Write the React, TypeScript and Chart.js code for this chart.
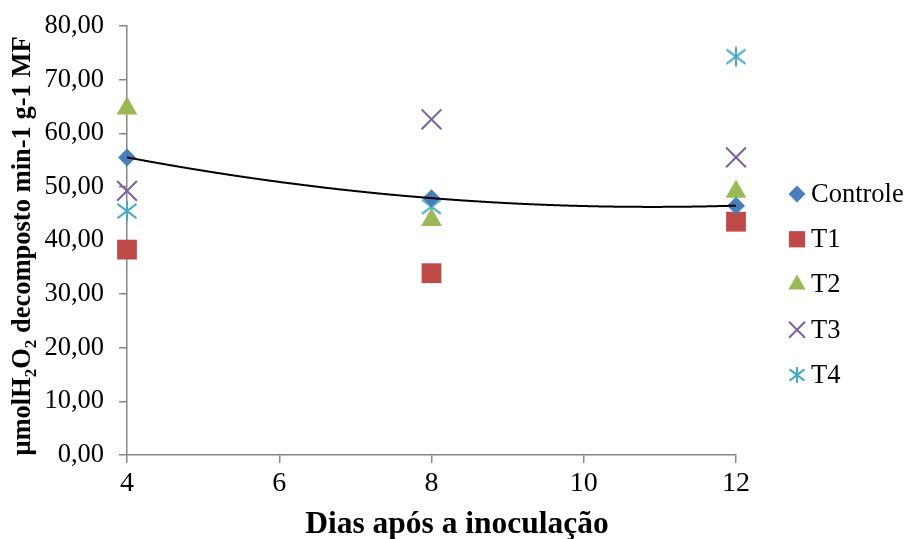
import React, { useEffect, useRef } from 'react';
import { Chart, registerables } from 'chart.js';
import { drawPoint } from 'chart.js/helpers';

Chart.register(...registerables);

// ---- data ----
const days = [4, 8, 12];
const controle = [55.5, 47.9, 46.5];
const t1 = [38.3, 33.9, 43.5];
const t2 = [64.6, 43.8, 49.1];
const t3 = [49.25, 62.6, 55.5];
const t4 = [45.5, 46.3, 74.3];
const seriesNames = ['Controle', 'T1', 'T2', 'T3', 'T4'];
const xTicks = [4, 6, 8, 10, 12];
const yTicks = [0, 10, 20, 30, 40, 50, 60, 70, 80];
const xTitle = 'Dias após a inoculação';
const yTitleParts = [
  { t: 'μmolH', sub: false },
  { t: '2', sub: true },
  { t: 'O', sub: false },
  { t: '2', sub: true },
  { t: ' decomposto min-1 g-1 MF', sub: false },
];

const colors = ['#4A7EBB', '#BE4B48', '#98B954', '#7D60A0', '#46AAC5'];
const FONT = "'Liberation Serif', 'Times New Roman', serif";
const AXIS = '#868686';

function makeStar(size: number, color: string) {
  const c = document.createElement('canvas');
  c.width = size;
  c.height = size;
  const g = c.getContext('2d')!;
  g.strokeStyle = color;
  g.lineWidth = 2;
  const m = size / 2;
  const hx = size / 2 - 1.5;
  const hy = hx * 0.75;
  g.beginPath();
  g.moveTo(m, 1);
  g.lineTo(m, size - 1);
  g.moveTo(m - hx, m - hy);
  g.lineTo(m + hx, m + hy);
  g.moveTo(m + hx, m - hy);
  g.lineTo(m - hx, m + hy);
  g.stroke();
  return c;
}

function quadFit(xs: number[], ys: number[]) {
  let s0 = 0, s1 = 0, s2 = 0, s3 = 0, s4 = 0, t0 = 0, t1_ = 0, t2_ = 0;
  for (let i = 0; i < xs.length; i++) {
    const x = xs[i], y = ys[i];
    s0 += 1; s1 += x; s2 += x * x; s3 += x * x * x; s4 += x * x * x * x;
    t0 += y; t1_ += x * y; t2_ += x * x * y;
  }
  const M = [
    [s0, s1, s2, t0],
    [s1, s2, s3, t1_],
    [s2, s3, s4, t2_],
  ];
  for (let i = 0; i < 3; i++) {
    let p = i;
    for (let r = i + 1; r < 3; r++) if (Math.abs(M[r][i]) > Math.abs(M[p][i])) p = r;
    [M[i], M[p]] = [M[p], M[i]];
    for (let r = 0; r < 3; r++) {
      if (r === i) continue;
      const f = M[r][i] / M[i][i];
      for (let k = i; k < 4; k++) M[r][k] -= f * M[i][k];
    }
  }
  const a = M[0][3] / M[0][0], b = M[1][3] / M[1][1], c = M[2][3] / M[2][2];
  return (x: number) => a + b * x + c * x * x;
}

export default function App() {
  const ref = useRef<HTMLCanvasElement>(null);

  useEffect(() => {
    const canvas = ref.current!;
    const starBig = makeStar(22, colors[4]);
    const starSmall = makeStar(18, colors[4]);
    const styles: any[] = ['rectRot', 'rect', 'triangle', 'crossRot', starBig];
    const radii = [9, 14, 12, 14, 11];
    const legendStyles: any[] = ['rectRot', 'rect', 'triangle', 'crossRot', starSmall];
    const legendRadii = [8.5, 11.5, 10, 11.3, 9];
    const all = [controle, t1, t2, t3, t4];
    const trend = quadFit(days, controle);

    const datasets = all.map((vals, i) => ({
      label: seriesNames[i],
      data: days.map((d, j) => ({ x: d, y: vals[j] })),
      pointStyle: styles[i],
      pointRadius: radii[i],
      pointHoverRadius: radii[i],
      backgroundColor: colors[i],
      borderColor: colors[i],
      pointBorderWidth: i >= 3 ? 2 : 0,
      showLine: false,
      clip: false,
    }));

    const extras = {
      id: 'extras',
      afterDatasetsDraw(chart: any) {
        const { ctx, scales } = chart;
        const xs = scales.x, ys = scales.y;
        ctx.save();
        ctx.beginPath();
        const p0 = xs.getPixelForValue(days[0]);
        const p1 = xs.getPixelForValue(days[days.length - 1]);
        for (let px = p0; px <= p1 + 0.01; px += 1) {
          const xv = xs.getValueForPixel(px);
          const py = ys.getPixelForValue(trend(xv));
          if (px === p0) ctx.moveTo(px, py); else ctx.lineTo(px, py);
        }
        ctx.strokeStyle = '#000';
        ctx.lineWidth = 2;
        ctx.stroke();
        ctx.restore();
      },
      afterDraw(chart: any) {
        const { ctx } = chart;
        ctx.save();
        // legend
        ctx.textAlign = 'left';
        ctx.textBaseline = 'middle';
        ctx.font = `26.5px ${FONT}`;
        seriesNames.forEach((name, i) => {
          const cy = 194 + i * 45.25;
          const mx = 797;
          ctx.fillStyle = colors[i];
          ctx.strokeStyle = colors[i];
          ctx.lineWidth = i >= 3 ? 2 : 0;
          drawPoint(ctx, { pointStyle: legendStyles[i], radius: legendRadii[i], rotation: 0, borderWidth: i >= 3 ? 2 : 0 } as any, mx, cy);
          ctx.fillStyle = '#000';
          ctx.fillText(name, mx + 14, cy + 1);
        });
        // x title
        ctx.font = `bold 31.5px ${FONT}`;
        ctx.textAlign = 'center';
        ctx.textBaseline = 'alphabetic';
        ctx.fillStyle = '#000';
        ctx.fillText(xTitle, 457, 533);
        // y title
        const cy = 246;
        ctx.translate(30, cy);
        ctx.rotate(-Math.PI / 2);
        const bigF = `bold 26.5px ${FONT}`;
        const subF = `bold 17px ${FONT}`;
        let total = 0;
        const widths = yTitleParts.map((p) => {
          ctx.font = p.sub ? subF : bigF;
          const w = ctx.measureText(p.t).width;
          total += w;
          return w;
        });
        let x = -total / 2;
        ctx.textAlign = 'left';
        yTitleParts.forEach((p, i) => {
          ctx.font = p.sub ? subF : bigF;
          ctx.fillText(p.t, x, p.sub ? 6 : 0);
          x += widths[i];
        });
        ctx.restore();
      },
    };

    const chart = new Chart(canvas, {
      type: 'scatter',
      data: { datasets: datasets as any },
      options: {
        animation: false,
        responsive: true,
        maintainAspectRatio: false,
        events: [],
        layout: { padding: { top: 26, right: 168, left: 0, bottom: 0 } },
        plugins: {
          legend: { display: false },
          tooltip: { enabled: false },
          title: { display: false },
        },
        scales: {
          x: {
            type: 'linear',
            min: xTicks[0],
            max: xTicks[xTicks.length - 1],
            afterBuildTicks: (s: any) => { s.ticks = xTicks.map((v) => ({ value: v })); },
            afterFit: (s: any) => { s.height = 84; s.paddingLeft = 0; s.paddingRight = 0; },
            ticks: { color: '#000', font: { family: FONT, size: 28 }, padding: 4, maxRotation: 0, autoSkip: false },
            grid: { display: true, drawOnChartArea: false, drawTicks: true, tickLength: 8, color: AXIS, lineWidth: 1.5 },
            border: { display: true, color: AXIS, width: 1.5 },
            title: { display: false },
          },
          y: {
            type: 'linear',
            min: yTicks[0],
            max: yTicks[yTicks.length - 1],
            afterBuildTicks: (s: any) => { s.ticks = yTicks.map((v) => ({ value: v })); },
            afterFit: (s: any) => { s.width = 127; s.paddingTop = 0; s.paddingBottom = 0; },
            ticks: {
              color: '#000',
              font: { family: FONT, size: 26.5 },
              padding: 15,
              autoSkip: false,
              callback: (v: any) => Number(v).toFixed(2).replace('.', ','),
            },
            grid: { display: true, drawOnChartArea: false, drawTicks: true, tickLength: 8, color: AXIS, lineWidth: 1.5 },
            border: { display: true, color: AXIS, width: 1.5 },
            title: { display: false },
          },
        },
      },
      plugins: [extras],
    });
    return () => chart.destroy();
  }, []);

  return (
    <div style={{ position: 'absolute', left: 0, top: 0, width: 904, height: 539, background: '#fff' }}>
      <canvas ref={ref} />
    </div>
  );
}
